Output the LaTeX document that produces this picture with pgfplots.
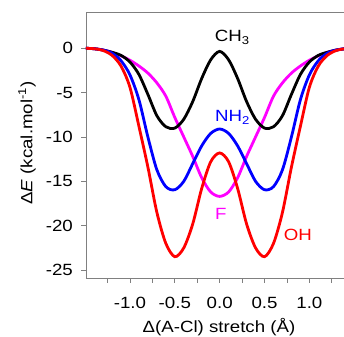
\documentclass[border=0pt]{standalone}
\usepackage{fontspec}
\setmainfont{Liberation Sans}[FakeStretch=1.15]
\usepackage{pgfplots}
\pgfplotsset{compat=1.18}
\definecolor{axgray}{RGB}{128,128,128}
\definecolor{mag}{RGB}{255,0,255}
\begin{document}
\begin{tikzpicture}[x=1bp,y=1bp]
\fontsize{16.3}{19}\selectfont
\begin{axis}[
  name=ax,
  scale only axis,
  width=258bp, height=266bp,
  xmin=-1.49, xmax=1.386,
  ymin=-25.9, ymax=4.09,
  axis x line*=bottom, axis y line*=left,
  axis line style={-, draw=axgray, line width=0.8bp},
  xtick={-1,-0.5,0,0.5,1},
  xticklabels={-1.0,-0.5,0.0,0.5,1.0},
  minor xtick={-1.25,-0.75,-0.25,0.25,0.75,1.25},
  ytick={-25,-20,-15,-10,-5,0},
  tick align=outside,
  major tick length=4.5bp, minor tick length=4.5bp,
  tick style={draw=axgray, line width=0.8bp},
  /pgf/number format/assume math mode=true,
  ticklabel style={font=\fontsize{16.3}{19}\selectfont},
  xticklabel style={yshift=-9bp},
  yticklabel style={xshift=-3bp},
  every axis plot/.append style={line width=2.8bp, smooth},
]
\addplot[mag] coordinates {
(-1.5,0) (-1.4,-0.05) (-1.3,-0.2) (-1.2,-0.45) (-1.1,-0.85) (-1.0,-1.35) (-0.9,-2.0) (-0.8,-2.8) (-0.7,-3.9) (-0.6,-5.4) (-0.5,-7.8) (-0.4,-10.0) (-0.3,-12.2) (-0.2,-14.6) (-0.1,-16.2) (0,-16.7)
(0.1,-16.2) (0.2,-14.6) (0.3,-12.2) (0.4,-10.0) (0.5,-7.8) (0.6,-5.4) (0.7,-3.9) (0.8,-2.8) (0.9,-2.0) (1.0,-1.35) (1.1,-0.85) (1.2,-0.45) (1.3,-0.2) (1.4,-0.05) (1.5,0)
};
\addplot[black] coordinates {
(-1.5,0) (-1.4,-0.05) (-1.3,-0.2) (-1.2,-0.45) (-1.1,-0.8) (-1.0,-1.55) (-0.9,-2.95) (-0.8,-5.2) (-0.7,-7.6) (-0.6,-8.85) (-0.5,-9.0) (-0.4,-8.0) (-0.3,-6.0) (-0.2,-3.4) (-0.1,-1.3) (0,-0.35)
(0.1,-1.3) (0.2,-3.4) (0.3,-6.0) (0.4,-8.0) (0.5,-9.0) (0.6,-8.85) (0.7,-7.6) (0.8,-5.2) (0.9,-2.95) (1.0,-1.55) (1.1,-0.8) (1.2,-0.45) (1.3,-0.2) (1.4,-0.05) (1.5,0)
};
\addplot[blue] coordinates {
(-1.5,0) (-1.4,-0.05) (-1.3,-0.2) (-1.2,-0.55) (-1.1,-1.4) (-1.0,-3.0) (-0.9,-5.8) (-0.8,-10.0) (-0.7,-13.7) (-0.6,-15.6) (-0.5,-15.95) (-0.4,-15.0) (-0.3,-13.0) (-0.2,-11.0) (-0.1,-9.6) (0,-9.1)
(0.1,-9.6) (0.2,-11.0) (0.3,-13.0) (0.4,-15.0) (0.5,-15.95) (0.6,-15.6) (0.7,-13.7) (0.8,-10.0) (0.9,-5.8) (1.0,-3.0) (1.1,-1.4) (1.2,-0.55) (1.3,-0.2) (1.4,-0.05) (1.5,0)
};
\addplot[red] coordinates {
(-1.5,0) (-1.4,-0.05) (-1.3,-0.25) (-1.2,-0.8) (-1.1,-2.0) (-1.0,-4.4) (-0.9,-8.8) (-0.8,-13.4) (-0.7,-18.5) (-0.6,-22.0) (-0.5,-23.5) (-0.4,-22.5) (-0.3,-19.8) (-0.2,-15.8) (-0.1,-12.8) (0,-11.8)
(0.1,-12.8) (0.2,-15.8) (0.3,-19.8) (0.4,-22.5) (0.5,-23.5) (0.6,-22.0) (0.7,-18.5) (0.8,-13.4) (0.9,-8.8) (1.0,-4.4) (1.1,-2.0) (1.2,-0.8) (1.3,-0.25) (1.4,-0.05) (1.5,0)
};
\node[anchor=base west, inner sep=0pt, black] at (axis cs:-0.056,0.74) {CH\textsubscript{3}};
\node[anchor=base west, inner sep=0pt, blue] at (axis cs:-0.052,-8.27) {NH\textsubscript{2}};
\node[anchor=base west, inner sep=0pt, mag] at (axis cs:-0.052,-19.3) {F};
\node[anchor=base west, inner sep=0pt, red] at (axis cs:0.713,-21.7) {OH};
\end{axis}
\draw[axgray, line width=0.8bp] (ax.north west) -- (ax.north east);
\node[anchor=center] at ([xshift=133bp,yshift=-49bp]ax.south west) {Δ(A-Cl) stretch (Å)};
\node[anchor=center, rotate=90] at ([xshift=-59bp,yshift=135bp]ax.south west) {Δ\textit{E} (kcal.mol\textsuperscript{-1})};
\pgfresetboundingbox
\path ([xshift=-86bp,yshift=-59bp]ax.south west) rectangle ([yshift=12bp]ax.north east);
\end{tikzpicture}
\end{document}
